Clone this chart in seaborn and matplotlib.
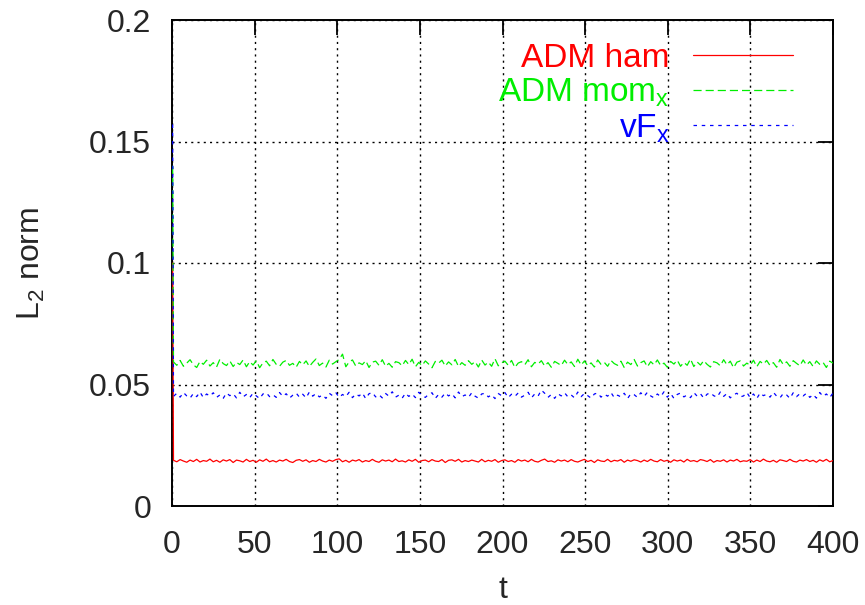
import numpy as np
import pandas as pd
import matplotlib
matplotlib.use("Agg")
import matplotlib.pyplot as plt
import seaborn as sns

# ---- data: levels plus deviations (deviations in units of 1e-4) ----
t_spike = 0.4
t_first = 0.9
t_end = 400.0
start_vals = {"ham": 0.100, "mom": 0.140, "vf": 0.157}   # initial spike values
levels = {"ham": 0.0186, "mom": 0.0585, "vf": 0.0455}

ham_dev = [
 2,-4,5,-1,-6,3,-3,6,-5,1,  -2,7,-4,2,-6,4,-1,5,-7,3,
 0,-5,6,-3,2,-6,4,-2,7,-4,  1,-5,3,-1,6,-3,-7,2,5,-2,
 4,-6,1,-3,6,-1,-5,3,-2,5,  8,-4,2,-6,3,-1,5,-5,1,-3,
 6,-2,-6,4,-1,3,-4,7,-3,0,  -5,4,-2,6,-6,1,3,-4,5,-1,
 -3,5,-7,2,4,-2,6,-5,1,-3,  3,-1,-5,6,-4,2,-2,5,-6,1,
 4,-3,1,-6,5,-1,3,-4,6,-2,  -5,2,7,-3,0,-6,4,-1,3,-4,
 5,-2,-5,1,6,-3,2,-7,4,-1,  -3,6,-4,2,-1,5,-6,3,-2,4,
 1,-5,3,-3,6,-1,-4,5,-2,2,  -6,4,-1,3,-5,6,-2,1,-4,5,
 2,-3,5,-6,1,-2,4,-5,3,-1,  6,-4,0,-2,5,-5,3,-3,7,-1,
 -4,2,-6,4,1,-3,6,-2,-5,3,  -1,5,-3,2,-6,4,-2,6,-4,1]

mom_dev = [
 8,-6,14,-10,3,17,-4,-15,10,-2,   15,-9,5,-13,19,1,-7,12,-11,6,
 -3,16,-12,9,-5,13,-16,4,11,-8,   18,-2,-10,7,14,-6,2,-14,10,-4,
 12,-11,6,20,-7,3,-13,15,-1,9,    18,40,-12,8,16,-9,4,-3,13,-15,
 7,11,-6,17,-10,2,-14,9,5,-8,     14,-3,19,-12,6,-7,12,-1,-16,10,
 3,15,-9,8,-4,18,-11,5,-6,13,     -2,9,-13,16,-5,7,-10,21,-8,4,
 11,-6,14,-15,3,9,-4,17,-12,6,    -1,13,-9,5,-14,10,2,-7,15,-3,
 8,-11,19,-5,12,-8,4,-13,16,-2,   6,-10,14,1,-6,11,-15,7,-3,18,
 -9,5,12,-12,9,-4,16,-7,3,-14,    10,-1,15,-10,6,-6,20,-11,8,-5,
 13,-2,-13,9,4,-8,17,-4,11,-16,   7,12,-9,3,-6,15,-12,10,-1,14,
 -7,5,-14,18,-3,8,-10,13,2,-8,    16,-5,9,-11,12,-2,6,-15,11,3]

vf_dev = [
 -4,9,-7,12,-2,-11,8,-5,14,-9,   6,-3,11,-8,2,-12,10,-1,7,-10,
 13,-6,4,-9,9,-2,-13,6,11,-5,    3,-8,12,-4,7,-11,1,10,-7,5,
 -10,14,-3,8,-6,2,-12,9,-1,11,   -8,4,-5,13,-9,6,-2,10,-13,7,
 12,-6,3,-10,8,-3,15,-7,1,-11,   9,-4,6,-9,13,-1,-8,5,11,-12,
 4,-7,10,-2,7,-10,14,-5,2,-8,    11,-3,-11,6,9,-6,3,-13,8,-1,
 12,-9,5,-4,10,-7,1,13,-10,6,    -3,22,9,-8,4,-12,7,-2,11,-6,
 2,-10,14,-5,8,-1,-11,6,10,-7,   5,-3,12,-9,1,-6,9,-13,7,3,
 -8,11,-4,13,-2,-10,6,-5,15,-7,  8,-12,4,10,-6,2,-9,12,-3,7,
 -11,5,11,-1,-7,14,-4,8,-10,3,   9,-6,-2,12,-9,6,-13,10,-1,5,
 -7,13,-3,-10,8,2,-12,11,-5,7,   -2,9,-8,4,-11,12,-4,6,-9,10]

labels = {"ham": "ADM ham", "mom": r"ADM mom$_\mathrm{x}$", "vf": r"vF$_\mathrm{x}$"}
colors = {"ham": "#ff0000", "mom": "#00ee00", "vf": "#0000ff"}
dashes = {"ham": None, "mom": (6.5, 3.2), "vf": (2.8, 3.8)}
x_ticks = [0, 50, 100, 150, 200, 250, 300, 350, 400]
y_ticks = [0, 0.05, 0.1, 0.15, 0.2]
y_tick_labels = ["0", "0.05", "0.1", "0.15", "0.2"]

sns.set_style("white")
plt.rcParams["font.family"] = ["Liberation Sans", "DejaVu Sans"]
plt.rcParams["mathtext.fontset"] = "custom"
plt.rcParams["mathtext.rm"] = "Liberation Sans"

fig = plt.figure(figsize=(8.65, 6.05), dpi=100)
ax = fig.add_axes([172/865, 99/605, (833-172)/865, (506-20)/605])

series = [("ham", ham_dev), ("mom", mom_dev), ("vf", vf_dev)]
for key, dev in series:
    n = len(dev)
    t = np.concatenate([[t_spike], np.linspace(t_first, t_end, n)])
    y = np.concatenate([[start_vals[key]], levels[key] + np.array(dev) * 1e-4])
    df = pd.DataFrame({"t": t, "v": y})
    sns.lineplot(data=df, x="t", y="v", ax=ax, color=colors[key],
                 linewidth=0.9, label=labels[key], zorder=3)
    if dashes[key] is not None:
        ax.get_lines()[-1].set_dashes(dashes[key])

ax.set_xlim(0, 400)
ax.set_ylim(0, 0.2)
ax.set_xticks(x_ticks)
ax.set_yticks(y_ticks)
ax.set_yticklabels(y_tick_labels)
ax.grid(True, color="black", linestyle=(0, (1.5, 3)), linewidth=1.0)
ax.tick_params(axis="both", direction="in", top=True, right=True,
               length=11, width=1.3, color="black", labelsize=23)
ax.tick_params(axis="y", pad=15)
ax.tick_params(axis="x", pad=17)
for s in ax.spines.values():
    s.set_color("black")
    s.set_linewidth(1.4)
    s.set_zorder(2.5)

ax.set_xlabel("t", fontsize=23, labelpad=11)
ax.set_ylabel(r"L$_\mathrm{2}$ norm", fontsize=23, labelpad=30)

leg = ax.legend(loc="upper right", bbox_to_anchor=(793/865, 1 - 43/605),
                bbox_transform=fig.transFigure, borderpad=0, borderaxespad=0,
                frameon=False, markerfirst=False, fontsize=24, handlelength=3.0,
                handletextpad=0.7, labelspacing=0.08, labelcolor="linecolor")
for h, (key, _) in zip(leg.get_lines(), series):
    if dashes[key] is not None:
        h.set_dashes(dashes[key])

fig.savefig("out.png", dpi=100)
